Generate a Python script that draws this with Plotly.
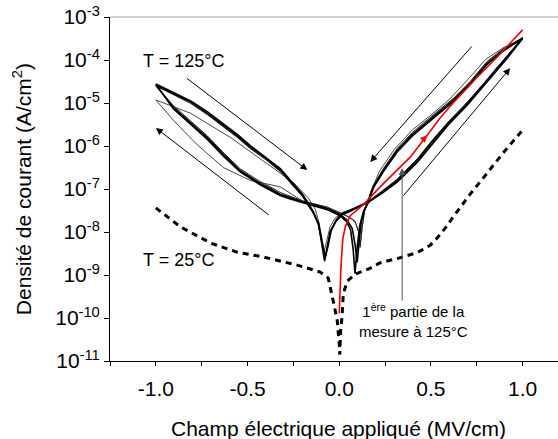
import numpy as np
import plotly.graph_objects as go

# ---------------- data ----------------
# field values in MV/cm, current density stored as log10(J) [A/cm2]

# T = 25 °C (dashed)
x_25 = [-1.0, -0.866, -0.70, -0.556, -0.414, -0.229, -0.104, -0.060, -0.033, -0.011, 0.0,
        0.003, 0.008, 0.016, 0.022, 0.044, 0.087, 0.17, 0.22, 0.332, 0.425, 0.496, 0.534,
        0.58, 0.621, 0.714, 0.807, 0.894, 0.986, 1.0]
logJ_25 = [-7.44, -7.88, -8.26, -8.47, -8.58, -8.77, -8.93, -9.07, -9.60, -10.05, -10.60,
           -10.85, -10.28, -9.93, -9.44, -9.14, -8.98, -8.84, -8.72, -8.60, -8.48, -8.31, -8.14,
           -7.90, -7.65, -7.12, -6.63, -6.16, -5.70, -5.62]

# T = 125 °C, cycle 1
x_c1 = [-1.0, -0.91, -0.81, -0.72, -0.63, -0.556, -0.485, -0.40, -0.32, -0.25, -0.20, -0.174,
        -0.142, -0.114, -0.093, -0.076, -0.060, -0.044, -0.016, 0.016, 0.060, 0.104, 0.158,
        0.223, 0.316, 0.425, 0.512, 0.594, 0.70, 0.807, 0.916, 1.0,
        0.894, 0.807, 0.714, 0.621, 0.534, 0.44, 0.40, 0.316, 0.24, 0.185, 0.158, 0.136, 0.120,
        0.109, 0.098, 0.087, 0.071, 0.044, 0.005, -0.065, -0.131, -0.196, -0.267, -0.322, -0.376,
        -0.431, -0.54, -0.63, -0.72, -0.905, -1.0]
logJ_c1 = [-4.585, -4.77, -4.98, -5.24, -5.52, -5.77, -6.03, -6.29, -6.57, -6.92, -7.15, -7.34,
           -7.55, -7.80, -8.20, -8.59, -8.31, -7.97, -7.73, -7.57, -7.50, -7.41, -7.31,
           -7.10, -6.80, -6.33, -5.87, -5.47, -5.00, -4.47, -3.93, -3.49,
           -3.77, -4.07, -4.54, -4.93, -5.24, -5.58, -5.72, -6.10, -6.57, -6.96, -7.31, -7.50, -7.78,
           -8.20, -8.71, -8.31, -7.92, -7.73, -7.59, -7.45, -7.38, -7.31, -7.20, -7.12, -6.99,
           -6.87, -6.57, -6.20, -5.80, -5.10, -4.585]

# T = 125 °C, cycle 2
x_c2 = [-1.0, -0.91, -0.81, -0.72, -0.63, -0.556, -0.485, -0.40, -0.32, -0.25, -0.20, -0.170,
        -0.140, -0.112, -0.095, -0.080, -0.066, -0.050, -0.020, 0.016, 0.060, 0.104, 0.160,
        0.223, 0.316, 0.425, 0.512, 0.594, 0.70, 0.807, 0.916, 1.0,
        0.894, 0.807, 0.714, 0.621, 0.534, 0.44, 0.40, 0.316, 0.24, 0.185, 0.160, 0.132, 0.112,
        0.098, 0.086, 0.076, 0.062, 0.040, 0.005, -0.065, -0.131, -0.196, -0.267, -0.322, -0.376,
        -0.431, -0.54, -0.63, -0.72, -0.905, -1.0]
logJ_c2 = [-4.56, -4.74, -4.95, -5.20, -5.48, -5.73, -5.99, -6.26, -6.53, -6.88, -7.12, -7.32,
           -7.54, -7.82, -8.25, -8.68, -8.35, -8.00, -7.76, -7.60, -7.52, -7.43, -7.30,
           -7.13, -6.84, -6.38, -5.92, -5.51, -5.04, -4.50, -3.96, -3.50,
           -3.79, -4.10, -4.57, -4.97, -5.28, -5.62, -5.76, -6.14, -6.60, -6.98, -7.30, -7.52, -7.85,
           -8.35, -8.97, -8.40, -7.95, -7.76, -7.62, -7.48, -7.40, -7.33, -7.23, -7.15, -7.02,
           -6.90, -6.60, -6.24, -5.84, -5.13, -4.56]

# T = 125 °C, cycle 3 (thin)
x_c3 = [-1.0, -0.91, -0.81, -0.72, -0.63, -0.556, -0.485, -0.40, -0.32, -0.25, -0.20, -0.172,
        -0.140, -0.114, -0.094, -0.078, -0.062, -0.046, -0.016, 0.016, 0.060, 0.104, 0.158,
        0.223, 0.316, 0.425, 0.512, 0.594, 0.70, 0.807, 0.916, 1.0,
        0.894, 0.807, 0.714, 0.621, 0.534, 0.44, 0.40, 0.316, 0.24, 0.185, 0.158, 0.136, 0.125,
        0.114, 0.106, 0.090, 0.071, 0.044, 0.005, -0.065, -0.131, -0.196, -0.267, -0.322, -0.376,
        -0.431, -0.54, -0.63, -0.72, -0.905, -1.0]
logJ_c3 = [-4.60, -4.80, -5.01, -5.27, -5.55, -5.80, -6.06, -6.32, -6.60, -6.95, -7.18, -7.36,
           -7.57, -7.84, -8.28, -8.64, -8.28, -7.95, -7.70, -7.55, -7.48, -7.39, -7.29,
           -7.08, -6.77, -6.30, -5.84, -5.44, -4.97, -4.45, -3.91, -3.48,
           -3.74, -4.03, -4.50, -4.90, -5.20, -5.54, -5.68, -6.06, -6.53, -6.93, -7.29, -7.55, -7.90,
           -8.36, -8.00, -7.80, -7.70, -7.64, -7.55, -7.42, -7.35, -7.28, -7.17, -7.08, -6.95,
           -6.83, -6.53, -6.16, -5.76, -5.06, -4.60]

# T = 125 °C, first (smaller) loop, thin
x_first = [-1.0, -0.81, -0.594, -0.36, -0.25, -0.17, -0.13, -0.11, -0.095, -0.082, -0.068,
           -0.05, -0.02, 0.02, 0.08, 0.158, 0.25, 0.35, 0.45, 0.55, 0.65, 0.75, 0.85, 0.95, 1.0,
           0.9, 0.8, 0.7, 0.6, 0.5, 0.4, 0.3, 0.22, 0.17, 0.14, 0.125, 0.115, 0.105, 0.085, 0.04,
           0.0, -0.1, -0.2, -0.322, -0.485, -0.632, -0.78, -0.905, -1.0]
logJ_first = [-4.93, -5.24, -5.80, -6.50, -6.85, -7.20, -7.48, -7.78, -8.10, -8.45, -8.20,
              -7.88, -7.66, -7.56, -7.46, -7.32, -7.05, -6.70, -6.25, -5.72, -5.25, -4.75, -4.22,
              -3.76, -3.52,
              -3.70, -3.98, -4.46, -4.92, -5.28, -5.62, -6.08, -6.58, -7.08, -7.50, -7.88, -8.30,
              -7.98, -7.74, -7.62, -7.55, -7.40, -7.28, -6.95, -6.80, -6.50, -5.95, -5.40, -4.93]

# first part of the measurement at 125 °C (red)
x_red = [0.0, 0.003, 0.009, 0.015, 0.020, 0.033, 0.060, 0.114, 0.153, 0.223, 0.278, 0.387,
         0.48, 0.55, 0.621, 0.752, 0.861, 1.0]
logJ_red = [-9.89, -9.35, -8.88, -8.42, -8.15, -7.88, -7.62, -7.43, -7.27, -6.95, -6.72, -6.26,
            -5.75, -5.35, -5.00, -4.40, -3.93, -3.30]

# axis ticks
x_tickvals = [-1.25, -1.0, -0.75, -0.5, -0.25, 0.0, 0.25, 0.5, 0.75, 1.0]
x_ticktext = ["", "-1.0", "", "-0.5", "", "0.0", "", "0.5", "", "1.0"]
y_exponents = [-11, -10, -9, -8, -7, -6, -5, -4, -3]

# ---------------- figure ----------------
FONT = "Liberation Sans, Arial, sans-serif"
fig = go.Figure()

def J(v):
    return np.power(10.0, np.array(v, dtype=float))

fig.add_trace(go.Scatter(x=x_first, y=J(logJ_first), mode="lines",
                         line=dict(color="#333333", width=0.9), showlegend=False))
fig.add_trace(go.Scatter(x=x_c3, y=J(logJ_c3), mode="lines",
                         line=dict(color="#222222", width=1.0), showlegend=False))
fig.add_trace(go.Scatter(x=x_c2, y=J(logJ_c2), mode="lines",
                         line=dict(color="black", width=1.6), showlegend=False))
fig.add_trace(go.Scatter(x=x_c1, y=J(logJ_c1), mode="lines",
                         line=dict(color="black", width=1.6), showlegend=False))
fig.add_trace(go.Scatter(x=x_25, y=J(logJ_25), mode="lines",
                         line=dict(color="black", width=3, dash="6px,5px"), showlegend=False))
fig.add_trace(go.Scatter(x=x_red, y=J(logJ_red), mode="lines",
                         line=dict(color="#ee0000", width=1.6), showlegend=False))

# direction arrows (positions in axis units, log10 for y)
arrows = [
    ((-0.839, -4.40), (-0.174, -6.56), "black"),
    ((-0.376, -7.63), (-1.0, -5.58), "black"),
    ((0.730, -3.65), (0.169, -6.37), "black"),
    ((0.343, -7.19), (0.932, -4.19), "black"),
    ((0.343, -9.63), (0.343, -6.51), "#555555"),
    ((0.44, -5.93), (0.48, -5.75), "#ee0000"),
]
for (tx, ty), (hx, hy), c in arrows:
    fig.add_annotation(x=hx, y=hy, ax=tx, ay=ty, xref="x", yref="y", axref="x", ayref="y",
                       text="", showarrow=True, arrowhead=2, arrowsize=1.4, arrowwidth=1,
                       arrowcolor=c, standoff=0, startstandoff=0)

fig.add_annotation(x=-0.85, y=-4.02, xref="x", yref="y", text="T = 125°C", showarrow=False,
                   font=dict(family=FONT, size=18, color="black"))
fig.add_annotation(x=-0.877, y=-8.65, xref="x", yref="y", text="T = 25°C", showarrow=False,
                   font=dict(family=FONT, size=18, color="black"))
fig.add_annotation(x=0.403, y=-10.05, xref="x", yref="y",
                   text="1<sup>ère</sup> partie de la<br>mesure à 125°C", showarrow=False,
                   font=dict(family=FONT, size=15, color="black"), align="center")

# axis titles
fig.add_annotation(x=0.511, y=-0.195, xref="paper", yref="paper",
                   text="Champ électrique appliqué (MV/cm)", showarrow=False,
                   xanchor="center", yanchor="middle", font=dict(family=FONT, size=21, color="black"))
fig.add_annotation(x=-0.196, y=0.5, xref="paper", yref="paper", textangle=-90,
                   text="Densité de courant (A/cm<sup>2</sup>)", showarrow=False,
                   xanchor="center", yanchor="middle", font=dict(family=FONT, size=21, color="black"))

# light top frame line
fig.add_shape(type="line", xref="paper", yref="paper", x0=0, x1=1, y0=1, y1=1,
              line=dict(color="#c0c0c0", width=1.5))

fig.update_layout(
    width=558, height=439,
    margin=dict(l=110, r=0, t=17, b=78),
    paper_bgcolor="white", plot_bgcolor="white",
    font=dict(family=FONT, size=21, color="black"),
    showlegend=False,
    xaxis=dict(range=[-1.25, 1.193], showgrid=False, zeroline=False, showline=True,
               linecolor="black", linewidth=1, ticks="outside", ticklen=4, tickcolor="black",
               tickvals=x_tickvals, ticktext=x_ticktext, ticklabelstandoff=5,
               tickfont=dict(family=FONT, size=21, color="black")),
    yaxis=dict(type="log", range=[-11, -3], showgrid=False, zeroline=False, showline=True,
               linecolor="black", linewidth=1, ticks="outside", ticklen=5, tickcolor="black",
               tickvals=[10.0 ** e for e in y_exponents],
               ticktext=["10<sup>%d</sup>" % e for e in y_exponents],
               tickfont=dict(family=FONT, size=21, color="black")),
)

fig.write_html("out.html", config={"displayModeBar": False},
               post_script="document.body.style.margin='0px';")
